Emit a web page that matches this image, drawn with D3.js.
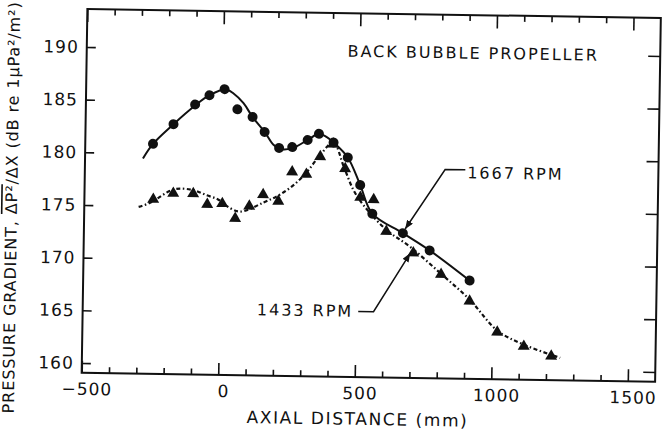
<!DOCTYPE html>
<html>
<head>
<meta charset="utf-8">
<script src="https://cdn.jsdelivr.net/npm/d3@7"></script>
<style>
body { margin: 0; background: #fff; }
svg text { font-family: "DejaVu Sans", sans-serif; fill: #111; }
</style>
</head>
<body>
<div id="grafica"></div>
<script>
var ancho = 669;
var alto = 444;

//Puntos medidos, 1667 RPM (círculos)
var distancia1667 = [-252, -178, -100, -48, 7, 55, 111, 156, 210, 258, 314, 355, 409, 462, 509, 555, 668, 767, 915];
var gradiente1667 = [180.9, 182.8, 184.7, 185.6, 186.2, 184.3, 183.6, 182.2, 180.7, 180.8, 181.5, 182.1, 181.3, 179.9, 177.3, 174.6, 172.8, 171.2, 168.4];

//Puntos medidos, 1433 RPM (triángulos)
var distancia1433 = [-248, -175, -102, -50, 5, 53, 104, 154, 210, 259, 311, 361, 408, 453, 510, 559, 607, 707, 810, 916, 1019, 1117, 1218];
var gradiente1433 = [175.8, 176.4, 176.4, 175.4, 175.5, 174.1, 175.3, 176.4, 175.8, 178.6, 178.4, 180.1, 181.3, 179.0, 176.3, 176.1, 173.1, 171.1, 169.1, 166.6, 163.7, 162.4, 161.5];

//Curvas dibujadas a mano en la figura (leídas punto a punto)
var curva1667X = [-288, -252, -178, -100, -48, 10, 40, 77, 111, 156, 189, 215, 258, 314, 355, 384, 409, 462, 509, 555, 668, 767, 915];
var curva1667Y = [179.5, 180.9, 182.8, 184.6, 185.6, 186.2, 185.8, 184.9, 183.6, 182.2, 181.0, 180.6, 180.7, 181.5, 182.1, 181.8, 181.3, 179.9, 177.3, 174.6, 172.8, 171.2, 168.4];
var curva1433X = [-301, -259, -174, -107, -52, -9, 22, 71, 156, 211, 265, 311, 361, 408, 448, 485, 522, 607, 696, 810, 916, 1019, 1117, 1251];
var curva1433Y = [174.9, 175.3, 176.6, 176.6, 176.1, 175.7, 175.1, 174.6, 175.5, 176.2, 177.2, 178.4, 180.1, 181.3, 179.0, 176.8, 175.4, 173.1, 171.5, 169.0, 166.6, 163.7, 162.4, 161.2];

//Ejes
var ticksX = [-500, 0, 500, 1000, 1500];
var ticksXMenores = [-400, -300, -200, -100, 100, 200, 300, 400, 600, 700, 800, 900, 1100, 1200, 1300, 1400];
var ticksY = [160, 165, 170, 175, 180, 185, 190];

//Anotaciones: extremo, codo y punta de cada flecha
var flecha1667 = [[893, 178.9], [819, 178.9], [676, 173.2]];
var flecha1433 = [[509, 165.3], [565, 165.3], [696, 170.9]];

var x = d3.scaleLinear().domain([-500, 1600]).range([84.5, 658]);
var y = d3.scaleLinear().domain([159.07, 193.6]).range([377.3, 13.5]);

var svg = d3.select("#grafica")
    .append("svg")
    .attr("width", ancho)
    .attr("height", alto);

svg.append("defs")
    .append("marker")
    .attr("id", "punta")
    .attr("viewBox", "0 0 10 8")
    .attr("refX", 10)
    .attr("refY", 4)
    .attr("markerWidth", 9)
    .attr("markerHeight", 7)
    .attr("markerUnits", "userSpaceOnUse")
    .attr("orient", "auto")
    .append("path")
    .attr("d", "M0,0 L10,4 L0,8 Z")
    .attr("fill", "#111");

//La figura escaneada está un poco girada
var g = svg.append("g")
    .attr("transform", "rotate(0.9, 371.5, 195.25)");

function estiloEje(sel) {
    sel.attr("font-size", null).attr("font-family", null);
    sel.select(".domain").remove();
    sel.selectAll("line").attr("stroke", "#111").attr("stroke-width", 1.6);
    sel.selectAll("text").style("font-size", "17px").style("letter-spacing", "1px");
}

var abajo = y.range()[0];
var arriba = y.range()[1];
var izq = x.range()[0];
var der = x.range()[1];

//Eje inferior
g.append("g")
    .attr("transform", "translate(0," + abajo + ")")
    .call(d3.axisBottom(x).tickValues(ticksXMenores).tickSize(-6).tickFormat(""))
    .call(estiloEje);
g.append("g")
    .attr("transform", "translate(0," + abajo + ")")
    .call(d3.axisBottom(x).tickValues(ticksX).tickSize(-12).tickPadding(10).tickFormat(d3.format("d")))
    .call(estiloEje)
    .selectAll("text").attr("dx", 5);

//Eje superior
g.append("g")
    .attr("transform", "translate(0," + arriba + ")")
    .call(d3.axisTop(x).tickValues(ticksXMenores).tickSize(-6).tickFormat(""))
    .call(estiloEje);
g.append("g")
    .attr("transform", "translate(0," + arriba + ")")
    .call(d3.axisTop(x).tickValues(ticksX).tickSize(-13).tickFormat(""))
    .call(estiloEje);

//Eje izquierdo y derecho
g.append("g")
    .attr("transform", "translate(" + izq + ",0)")
    .call(d3.axisLeft(y).tickValues(ticksY).tickSize(-9).tickPadding(8))
    .call(estiloEje);
g.append("g")
    .attr("transform", "translate(" + der + ",0)")
    .call(d3.axisRight(y).tickValues(ticksY).tickSize(-12).tickFormat(""))
    .call(estiloEje);

//Marco
g.append("rect")
    .attr("x", izq)
    .attr("y", arriba)
    .attr("width", der - izq)
    .attr("height", abajo - arriba)
    .attr("fill", "none")
    .attr("stroke", "#111")
    .attr("stroke-width", 2);

//Curvas
var linea = d3.line()
    .x(function(d) { return x(d[0]); })
    .y(function(d) { return y(d[1]); })
    .curve(d3.curveCatmullRom.alpha(0.5));

g.append("path")
    .datum(d3.zip(curva1667X, curva1667Y))
    .attr("d", linea)
    .attr("fill", "none")
    .attr("stroke", "#111")
    .attr("stroke-width", 2);

g.append("path")
    .datum(d3.zip(curva1433X, curva1433Y))
    .attr("d", linea)
    .attr("fill", "none")
    .attr("stroke", "#111")
    .attr("stroke-width", 2.2)
    .attr("stroke-dasharray", "4,2.5,1.5,2.5");

//Puntos
g.selectAll(".circulo")
    .data(d3.zip(distancia1667, gradiente1667))
    .enter()
    .append("circle")
    .attr("class", "circulo")
    .attr("cx", function(d) { return x(d[0]); })
    .attr("cy", function(d) { return y(d[1]); })
    .attr("r", 5)
    .attr("fill", "#111");

var triangulo = d3.symbol().type(d3.symbolTriangle).size(62);
g.selectAll(".triangulo")
    .data(d3.zip(distancia1433, gradiente1433))
    .enter()
    .append("path")
    .attr("class", "triangulo")
    .attr("d", triangulo)
    .attr("transform", function(d) { return "translate(" + x(d[0]) + "," + (y(d[1]) + 1.7) + ")"; })
    .attr("fill", "#111");

//Flechas de las anotaciones
var lineaRecta = d3.line()
    .x(function(d) { return x(d[0]); })
    .y(function(d) { return y(d[1]); });

[flecha1667, flecha1433].forEach(function(f) {
    g.append("path")
        .datum(f)
        .attr("d", lineaRecta)
        .attr("fill", "none")
        .attr("stroke", "#111")
        .attr("stroke-width", 1.5)
        .attr("marker-end", "url(#punta)");
});

g.append("text")
    .attr("x", x(flecha1667[0][0]) + 2)
    .attr("y", y(178.1))
    .style("font-size", "16px")
    .style("letter-spacing", "2px")
    .text("1667 RPM");

g.append("text")
    .attr("x", x(flecha1433[0][0]) - 5)
    .attr("y", y(164.8))
    .attr("text-anchor", "end")
    .style("font-size", "16px")
    .style("letter-spacing", "2px")
    .text("1433 RPM");

//Título interior
g.append("text")
    .attr("x", x(455))
    .attr("y", y(189.46))
    .style("font-size", "16px")
    .style("letter-spacing", "2px")
    .text("BACK BUBBLE PROPELLER");

//Títulos de los ejes
g.append("text")
    .attr("x", 361)
    .attr("y", 425)
    .attr("text-anchor", "middle")
    .style("font-size", "17px")
    .style("letter-spacing", "1.6px")
    .text("AXIAL DISTANCE  (mm)");

var tituloY = g.append("text")
    .attr("transform", "translate(17.2,213) rotate(-90)")
    .attr("text-anchor", "middle")
    .style("font-size", "16px")
    .style("letter-spacing", "0.9px");
tituloY.append("tspan").text("PRESSURE GRADIENT, ");
tituloY.append("tspan").style("text-decoration", "overline").text("ΔP²");
tituloY.append("tspan").text("/ΔX  (dB re 1μPa²/m²)");
</script>
</body>
</html>
